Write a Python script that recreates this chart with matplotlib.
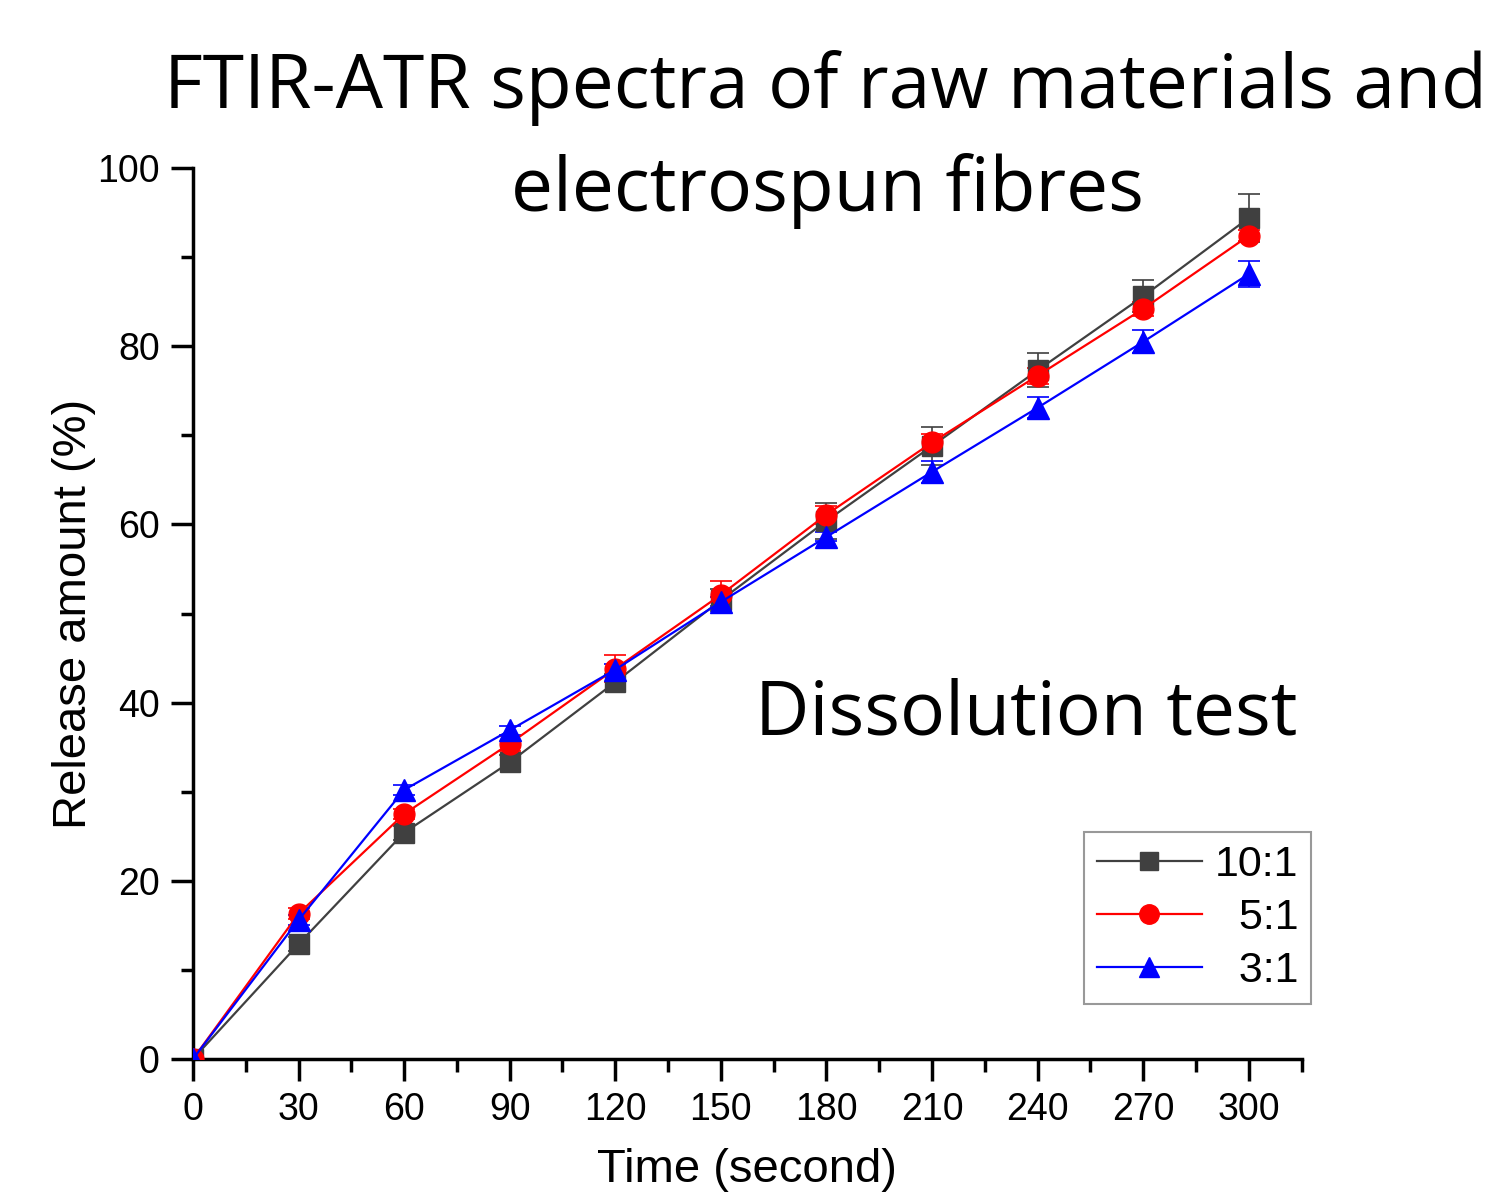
import matplotlib
matplotlib.use("Agg")
import matplotlib.pyplot as plt
from matplotlib.ticker import MultipleLocator
from matplotlib.lines import Line2D

time_s = [0, 30, 60, 90, 120, 150, 180, 210, 240, 270, 300]
r10 = [0, 12.9, 25.4, 33.3, 42.3, 51.5, 60.4, 68.8, 77.3, 85.6, 94.4]
r10_err = [0, 0.8, 0.8, 0.8, 0.9, 1.2, 2.0, 2.1, 1.9, 1.8, 2.7]
r5 = [0, 16.3, 27.5, 35.4, 43.8, 52.1, 61.1, 69.2, 76.7, 84.2, 92.4]
r5_err = [0, 0.6, 0.6, 0.8, 1.5, 1.5, 1.0, 0.9, 0.9, 0.8, 0.6]
r3 = [0, 15.6, 30.2, 36.9, 43.7, 51.3, 58.6, 65.9, 73.1, 80.5, 88.1]
r3_err = [0, 0.6, 0.6, 0.5, 0.6, 0.5, 0.5, 1.2, 1.2, 1.3, 1.5]
labels = ["10:1", "\u20075:1", "\u20073:1"]

plt.rcParams['font.family'] = ['Liberation Sans', 'DejaVu Sans']

fig = plt.figure(figsize=(14.96, 11.92), dpi=100)
ax = fig.add_axes([0.129, 0.1116, 0.741, 0.7474])

series = [
    (r10, r10_err, '#404040', 's', 14, labels[0]),
    (r5, r5_err, '#ff0000', 'o', 15, labels[1]),
    (r3, r3_err, '#0000ff', '^', 16, labels[2]),
]
handles = []
for y, e, c, m, ms, lab in series:
    ax.errorbar(time_s, y, yerr=e, color=c, marker=m, markersize=ms,
                linewidth=1.6, elinewidth=1.2, capsize=8, capthick=1.2,
                markeredgecolor=c, zorder=3)
    handles.append(Line2D([], [], color=c, marker=m, markersize=ms - 1,
                          linewidth=1.6, markeredgecolor=c, label=lab))

ax.set_xlim(0, 315)
ax.set_ylim(0, 100)
ax.xaxis.set_major_locator(MultipleLocator(30))
ax.xaxis.set_minor_locator(MultipleLocator(15))
ax.yaxis.set_major_locator(MultipleLocator(20))
ax.yaxis.set_minor_locator(MultipleLocator(10))
for s in ['top', 'right']:
    ax.spines[s].set_visible(False)
for s in ['left', 'bottom']:
    ax.spines[s].set_linewidth(2.5)
ax.tick_params(which='major', direction='out', length=16, width=2.5, labelsize=27, pad=8)
ax.tick_params(which='minor', direction='out', length=9, width=2.5)
ax.set_xlabel("Time (second)", fontsize=34, labelpad=14)
ax.set_ylabel("Release amount (%)", fontsize=34, labelpad=1)

leg = ax.legend(handles=handles, loc='lower right', bbox_to_anchor=(1.009, 0.0617),
                fontsize=31, frameon=True, fancybox=False, edgecolor='#808080',
                handlelength=2.45, borderpad=0.3, labelspacing=0.3,
                handletextpad=0.3, borderaxespad=0)
leg.get_frame().set_linewidth(1.5)

tfont = ['Open Sans', 'DejaVu Sans']
fig.text(0.552, 0.926, "FTIR-ATR spectra of raw materials and", fontsize=54,
         family=tfont, ha='center', va='center')
fig.text(0.553, 0.840, "electrospun fibres", fontsize=54,
         family=tfont, ha='center', va='center')
ax.text(0.9964, 0.3865, "Dissolution test", transform=ax.transAxes, fontsize=54,
        family=tfont, ha='right', va='center')

fig.savefig("out.png", dpi=100)
